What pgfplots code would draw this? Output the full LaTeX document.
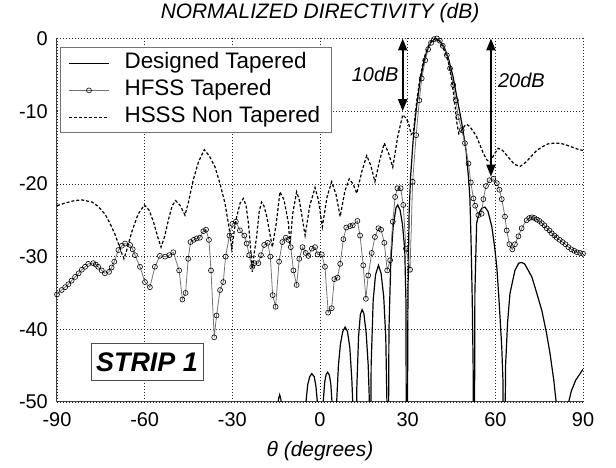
\documentclass[border=0pt]{standalone}
\usepackage{fontspec}
\setmainfont{Liberation Sans}
\usepackage{pgfplots}
\pgfplotsset{compat=1.18}
\usetikzlibrary{arrows.meta}

\begin{document}
\begin{tikzpicture}[x=1bp,y=1bp]
\begin{axis}[
  at={(0,0)}, anchor=south west,
  width=526bp, height=363.5bp, scale only axis,
  xmin=-90, xmax=90, ymin=-50, ymax=0,
  axis x line*=bottom, axis y line*=left,
  axis line style={line width=1bp, black!75},
  xtick={-90,-60,-30,0,30,60,90},
  xticklabels={-90,-60,-30,0,30,60,90},
  ytick={-50,-40,-30,-20,-10,0},
  yticklabels={-50,-40,-30,-20,-10,0},
  major tick length=0pt,
  tick label style={font=\fontsize{20}{24}\selectfont, inner sep=0pt},
  xticklabel style={anchor=base, yshift=-24bp},
  yticklabel style={anchor=east, xshift=-9bp},
  grid=major,
  major grid style={black!85, line width=0.6bp, dash pattern=on 1bp off 2bp},
  clip mode=individual,
  title={NORMALIZED DIRECTIVITY (dB)},
  title style={font=\fontsize{21}{24}\selectfont\itshape, at={(axis description cs:0.5,1)}, anchor=base, yshift=14bp},
  xlabel={θ (degrees)},
  xlabel style={font=\fontsize{21}{24}\selectfont\itshape, at={(axis description cs:0.5,0)}, anchor=base, yshift=-54bp},
  legend style={at={(axis description cs:0,1)}, anchor=north west, xshift=3bp, yshift=-9bp,
    draw=black!55, line width=0.8bp, fill=white,
    font=\fontsize{22.5}{26}\selectfont,
    inner xsep=8bp, inner ysep=2bp, row sep=0bp, column sep=12bp,
    nodes={inner xsep=3bp, inner ysep=2.5bp, text height=16.5bp, text depth=5.5bp},
    cells={anchor=west}},
  legend image code/.code={\draw[mark repeat=2,mark phase=2,#1] plot coordinates {(0bp,0bp) (20bp,0bp) (40bp,0bp)};},
]
% Designed Tapered
\addplot[black, line width=1.2bp] coordinates {
(-15.0,-65) (-14.6,-51) (-14.2,-49.6) (-13.8,-49.0) (-13.4,-49.6) (-13.0,-51) (-12.6,-65)
(-5.4,-65) (-4.8,-50) (-4.2,-47.6) (-3.5,-46.5) (-2.8,-46.1) (-2.0,-46.5) (-1.4,-47.8) (-0.9,-50) (-0.3,-65)
(0.4,-65) (1.1,-50) (1.6,-47.3) (2.1,-46.2) (2.6,-45.9) (3.2,-46.3) (3.7,-47.5) (4.1,-50) (4.8,-65)
(5.1,-65) (5.7,-50) (6.3,-45) (7.0,-42) (7.8,-40.3) (8.6,-39.7) (9.4,-40.3) (10.2,-42.5) (10.9,-47) (11.4,-52) (12.0,-65)
(12.2,-65) (12.6,-48) (13.2,-41) (13.8,-38) (14.4,-37.3) (15.0,-37.8) (15.8,-40.5) (16.5,-45) (16.9,-50) (17.1,-65)
(17.2,-65) (17.5,-45) (18.2,-36) (19.0,-32.5) (20.0,-31.2) (20.9,-32.3) (21.8,-35.5) (22.5,-41) (22.9,-50) (23.1,-65)
(23.3,-65) (23.6,-40) (24.2,-31) (25.0,-26) (26.0,-23.3) (26.6,-22.9) (27.4,-23.6) (28.2,-25.5) (29.0,-29) (29.4,-36) (29.6,-65)
(29.8,-65) (30.1,-35) (30.5,-24) (31.0,-19) (32.0,-13.3) (33.0,-9.5) (34.2,-6) (35.5,-3.3) (36.5,-1.8) (38.0,-0.5) (39.5,0) (41.0,-0.3) (42.5,-1.2) (44.0,-2.8) (45.5,-5.2) (46.8,-8.0) (48.0,-10.5) (49.0,-12.8) (50.0,-15.5) (50.8,-19) (51.3,-22) (51.7,-28) (52.1,-36) (52.4,-45) (52.6,-65)
(52.8,-65) (53.0,-35) (53.6,-25.4) (54.5,-23.9) (55.5,-23.3) (56.5,-23.2) (57.5,-23.8) (58.8,-25.9) (59.7,-28.5) (60.5,-31.4) (61.1,-35) (61.6,-38.3) (62.2,-42.5) (62.6,-47) (62.9,-65)
(63.1,-65) (63.5,-45) (64.2,-39) (65.0,-35.1) (66.7,-31.9) (68.0,-30.9) (69.0,-30.8) (70.0,-31) (71.0,-31.7) (72.5,-32.8) (74.0,-34.8) (75.9,-37.4) (77.5,-40.5) (78.7,-43.3) (80.0,-47) (80.8,-50) (82.0,-55) (83.0,-65)
(84.0,-60) (85.1,-50) (86.0,-48.5) (87.5,-47) (90.0,-45.5)
};
\addlegendentry{Designed Tapered}
% HFSS Tapered
\addplot[black!55, line width=0.8bp, mark=o, mark size=2.5bp, mark options={black, fill=white, line width=0.6bp}] coordinates {
(-90,-35.2) (-88.4,-34.6) (-87.2,-34.2) (-86.1,-33.8) (-85,-33.3) (-83.8,-32.8) (-82.6,-32.3) (-81.5,-31.8) (-80.4,-31.4) (-79.3,-31.0) (-77.6,-30.9) (-76.7,-31.1) (-75.9,-31.4) (-74.7,-31.9) (-73.6,-32.3) (-72.2,-32.1) (-71.3,-31.5) (-70.4,-30.7) (-69.0,-29.1) (-67.8,-28.5) (-66.7,-28.2) (-65.0,-28.4) (-64.1,-29.0) (-63.3,-29.8) (-61.6,-31.4) (-59.9,-33.5) (-58.2,-34.2) (-56.5,-31.4) (-54.8,-29.9) (-53.0,-30.0) (-51.6,-29.8) (-50.2,-29.4) (-48.2,-31.9) (-47.1,-35.9) (-46.0,-35.0) (-45.1,-30.3) (-44.3,-28.0) (-43.2,-27.7) (-42.2,-27.5) (-41.1,-27.4) (-39.9,-26.5) (-39.0,-26.3) (-38.0,-27.7) (-37.3,-31.9) (-36.2,-41.1) (-35.4,-38.1) (-34.2,-34.6) (-33.1,-33.5) (-32.3,-30.0) (-31.0,-27.1) (-30.0,-25.5) (-28.8,-25.2) (-27.4,-26.4) (-25.9,-27.1) (-25.1,-28.2) (-24.2,-29.8) (-23.2,-31.4) (-22.5,-30.9) (-21.1,-30.9) (-20.2,-29.8) (-19.1,-28.4) (-17.9,-28.1) (-17.0,-30.0) (-16.2,-35.3) (-15.2,-36.9) (-14.0,-30.7) (-12.9,-28.0) (-11.7,-27.4) (-10.8,-27.7) (-10.0,-28.7) (-9.1,-31.9) (-8.0,-33.9) (-7.1,-30.3) (-6.0,-28.7) (-4.9,-29.5) (-4.0,-29.9) (-2.8,-28.9) (-1.7,-28.7) (-0.8,-29.7) (0.6,-29.7) (1.7,-31.4) (2.8,-37.7) (4.0,-37.1) (4.9,-33.1) (6.0,-32.9) (6.9,-31.0) (8.0,-27.6) (9.0,-26.0) (10.3,-25.8) (11.2,-25.7) (12.8,-25.1) (13.7,-27.1) (14.8,-31.2) (15.7,-35.8) (16.5,-32.6) (17.7,-29.5) (18.8,-27.3) (20.0,-26.1) (20.9,-26.3) (22.0,-28.1) (23.0,-31.9) (24.0,-30.5) (24.9,-25.2) (25.7,-21.8) (26.5,-20.6) (27.6,-20.6) (28.5,-22.9) (29.4,-28.9) (30.8,-31.8) (31.7,-19.7) (32.9,-13.3) (34.0,-8.5) (34.8,-5.5) (36,-3) (37,-1.5) (38,-0.6) (39,-0.1) (40,0) (41,-0.3) (42,-1.0) (43.4,-2.3) (44.5,-4.1) (45.6,-6.4) (46.5,-8.5) (47.3,-10.8) (48.5,-12.6) (49.6,-14.4) (50.8,-17.2) (51.6,-19.8) (52.5,-22.0) (53.1,-23.0) (54.2,-24.3) (55.3,-24.1) (55.9,-22.1) (56.8,-20.3) (58.0,-19.5) (59.3,-19.3) (60.5,-19.9) (61.4,-20.8) (62.2,-22.1) (63.3,-24.5) (63.9,-26.4) (64.8,-28.3) (65.8,-29.0) (66.7,-28.3) (67.9,-27.2) (69.0,-26.1) (70.7,-25.0) (71.6,-24.7) (72.5,-24.6) (73.4,-24.7) (74.2,-24.9) (75.1,-25.1) (75.9,-25.4) (76.8,-25.7) (77.6,-26.1) (78.5,-26.4) (79.3,-26.8) (80.2,-27.1) (81.0,-27.4) (82,-27.7) (83,-28.0) (84,-28.3) (85,-28.7) (86,-29.0) (87,-29.2) (87.9,-29.4) (89,-29.5) (90,-29.6)
};
\addlegendentry{HFSS Tapered}
% HSSS Non Tapered
\addplot[black, line width=1.2bp, dash pattern=on 3bp off 2bp] coordinates {
(-90,-23.0) (-87,-22.6) (-84,-22.3) (-81.5,-22.2) (-78,-22.5) (-75.9,-23.1) (-73.5,-24.2) (-71.9,-25.4) (-70.3,-26.8) (-69.0,-28.2) (-67.9,-29.5) (-67.1,-30.3) (-66.2,-29.2) (-64.4,-26.6) (-62.3,-24.2) (-60.1,-22.9) (-58.5,-23.6) (-57.0,-25.2) (-55.6,-27.2) (-54.4,-28.7) (-53.2,-27.3) (-51.9,-25.0) (-50.6,-23.0) (-49.4,-22.3) (-47.8,-23.0) (-46.2,-24.3) (-45.0,-22.5) (-43.4,-19.5) (-41.6,-17.0) (-39.6,-15.3) (-37.8,-16.2) (-35.9,-17.7) (-34.2,-20.0) (-32.5,-22.7) (-31.2,-25.8) (-30.2,-28.9) (-29.3,-26.3) (-28.5,-24.5) (-27.3,-22.6) (-26.2,-22.0) (-25.3,-23.0) (-24.5,-25.4) (-23.8,-28.5) (-23.2,-32.1) (-22.5,-29.5) (-21.7,-27.3) (-20.8,-23.8) (-20.0,-22.5) (-19.2,-23.0) (-18.2,-24.5) (-17.2,-26.8) (-16.3,-28.7) (-15.0,-25.5) (-13.7,-21.1) (-12.3,-22.2) (-10.8,-25.4) (-10.3,-28.4) (-9.3,-24.0) (-8.0,-21.1) (-7.1,-22.2) (-6.3,-24.1) (-5.1,-27.1) (-3.5,-23.0) (-1.7,-20.5) (-0.5,-22.3) (0.8,-25.9) (2.4,-21.8) (4.0,-19.7) (5.5,-21.5) (6.9,-24.5) (8.5,-21.0) (10.0,-19.3) (11.3,-20.0) (12.6,-21.3) (14.3,-18.3) (16.0,-16.1) (17.4,-17.5) (18.8,-19.7) (20.4,-16.8) (22.0,-14.4) (23.5,-15.8) (24.9,-17.7) (26.6,-13.5) (28.3,-10.5) (29.3,-10.9) (30.2,-11.5) (31.2,-13.2) (32.0,-12.8) (33.0,-9.0) (34.0,-6.0) (35.0,-3.8) (36.0,-2.2) (37.2,-0.9) (38.4,-0.2) (39.6,0) (40.7,-0.3) (41.8,-1.0) (43,-2.1) (44,-3.4) (45,-5.5) (46,-8.5) (46.8,-11.5) (47.5,-13.1) (48.5,-12.6) (49.5,-12.0) (50.2,-11.8) (51.2,-12.1) (52.5,-12.8) (53.6,-13.5) (55,-14.9) (55.9,-15.8) (57.1,-16.7) (58.2,-17.0) (59.5,-16.0) (61.0,-15.1) (62.5,-15.4) (64.4,-16.3) (66.5,-17.3) (68.5,-17.6) (70.5,-17.0) (72.5,-16.1) (74.2,-15.4) (76,-14.9) (78,-14.5) (80,-14.4) (82,-14.4) (84,-14.6) (86,-14.9) (88,-15.2) (90,-15.4)
};
\addlegendentry{HSSS Non Tapered}
% annotations
\draw[line width=2bp, {Triangle[length=12bp,width=9bp]}-{Triangle[length=12bp,width=9bp]}] (axis cs:28.3,0) -- (axis cs:28.3,-10);
\draw[line width=2bp, {Triangle[length=12bp,width=9bp]}-{Triangle[length=12bp,width=9bp]}] (axis cs:58.5,0) -- (axis cs:58.5,-19);
\node[anchor=east, font=\fontsize{20}{24}\selectfont\itshape, inner sep=0pt] at (axis cs:26.9,-4.9) {10dB};
\node[anchor=west, font=\fontsize{20}{24}\selectfont\itshape, inner sep=0pt] at (axis cs:60.9,-5.8) {20dB};
\node[draw=black!70, fill=white, line width=0.8bp, font=\fontsize{27}{30}\selectfont\bfseries\itshape, minimum width=112bp, minimum height=37bp, inner sep=0pt] at (axis cs:-59.2,-44.5) {STRIP 1};
\end{axis}
\pgfresetboundingbox
\path[use as bounding box] (-57bp,-66bp) rectangle (559bp,402bp);
\end{tikzpicture}
\end{document}
